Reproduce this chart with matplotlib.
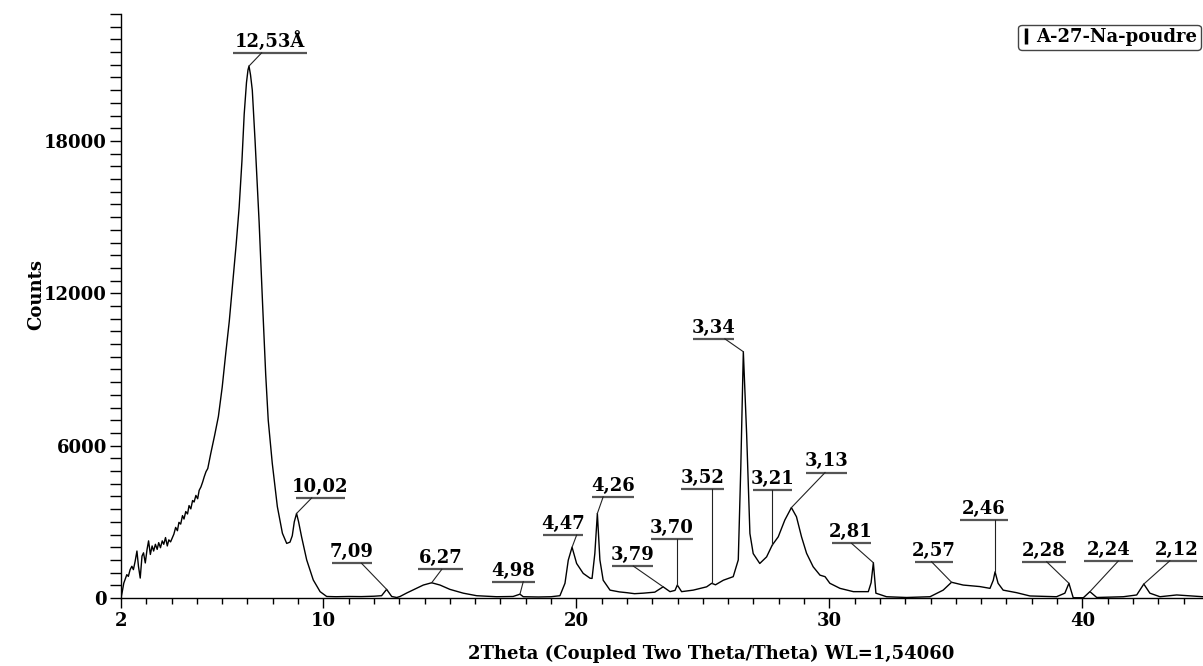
import matplotlib
matplotlib.use("Agg")
import matplotlib.pyplot as plt
from matplotlib.ticker import MultipleLocator, FixedLocator
from matplotlib.lines import Line2D

# ---------------- data ----------------
two_theta = [
    2.00, 2.05, 2.11, 2.16, 2.23, 2.29, 2.36, 2.43, 2.49, 2.56, 2.63, 2.69, 2.76, 2.83, 2.89,
    2.96, 3.03, 3.09, 3.16, 3.23, 3.29, 3.36, 3.43, 3.49, 3.56, 3.63, 3.69, 3.76, 3.83, 3.89,
    3.96, 4.03, 4.09, 4.16, 4.23, 4.29, 4.36, 4.43, 4.49, 4.56, 4.63, 4.69, 4.76, 4.83, 4.89,
    4.96, 5.03, 5.09, 5.16, 5.23, 5.29, 5.36, 5.43, 5.55, 5.70, 5.85, 6.00, 6.14, 6.28, 6.40,
    6.55, 6.67, 6.78, 6.87, 6.96, 7.02, 7.06, 7.12, 7.19, 7.30, 7.46, 7.60, 7.72, 7.82, 7.98,
    8.18, 8.38, 8.55, 8.68, 8.77, 8.85, 8.94, 9.02, 9.14, 9.34, 9.60, 9.87, 10.13, 10.50, 11.00,
    11.50, 12.00, 12.30, 12.50, 12.70, 12.90, 13.03, 13.30, 13.55, 13.95, 14.28, 14.61, 15.00, 15.53, 16.06,
    16.85, 17.50, 17.77, 17.90, 18.50, 19.00, 19.35, 19.55, 19.68, 19.83, 20.01, 20.27, 20.54, 20.62, 20.73,
    20.83, 20.93, 21.06, 21.33, 21.70, 21.99, 22.30, 22.64, 23.10, 23.43, 23.70, 23.90, 23.99, 24.16, 24.62,
    25.15, 25.35, 25.50, 25.81, 26.20, 26.40, 26.50, 26.60, 26.73, 26.86, 26.99, 27.25, 27.52, 27.74, 27.98,
    28.24, 28.50, 28.70, 28.90, 29.10, 29.36, 29.63, 29.83, 30.02, 30.42, 30.95, 31.54, 31.65, 31.74, 31.84,
    32.26, 33.05, 33.98, 34.50, 34.83, 35.29, 35.95, 36.35, 36.48, 36.55, 36.67, 36.87, 37.40, 37.93, 38.98,
    39.31, 39.47, 39.64, 40.04, 40.30, 40.57, 41.62, 42.15, 42.43, 42.67, 43.07, 43.73, 44.77,
]
counts = [
    0, 250, 585, 720, 920, 850, 1117, 1250, 1117, 1450, 1850, 1250, 785, 1650, 1780,
    1380, 1915, 2250, 1715, 2050, 1850, 2115, 1915, 2180, 1980, 2250, 2115, 2380, 2050, 2290,
    2210, 2380, 2515, 2780, 2650, 2980, 2910, 3245, 3110, 3405, 3310, 3640, 3510, 3840, 3780,
    4040, 3910, 4240, 4375, 4575, 4775, 4975, 5100, 5700, 6400, 7150, 8300, 9630, 10900, 12230,
    13900, 15380, 17200, 19060, 20300, 20800, 20950, 20600, 20000, 18000, 14800, 11500, 8800, 7000, 5300,
    3600, 2550, 2150, 2200, 2450, 3000, 3330, 3000, 2400, 1500, 710, 250, 60, 50, 60,
    55, 70, 90, 340, 60, 20, 60, 200, 320, 510, 600, 510, 340, 190, 90,
    50, 60, 150, 50, 40, 50, 90, 580, 1490, 2000, 1360, 970, 780, 770, 1750,
    3330, 1500, 700, 310, 240, 210, 170, 190, 230, 440, 250, 300, 510, 250, 310,
    440, 580, 520, 700, 840, 1500, 5160, 9700, 6470, 2540, 1750, 1360, 1620, 2080, 2410,
    3070, 3560, 3200, 2410, 1760, 1230, 900, 840, 580, 380, 250, 250, 600, 1390, 190,
    50, 20, 50, 310, 620, 510, 450, 380, 700, 1030, 580, 310, 210, 80, 50,
    190, 580, 10, 10, 250, 20, 50, 120, 550, 190, 50, 120, 50,
]

# peak labels (d-spacings) and the peak each one points to
peak_labels = ["12,53Å", "10,02", "7,09", "6,27", "4,98", "4,47", "4,26", "3,79", "3,70", "3,52",
               "3,34", "3,21", "3,13", "2,81", "2,57", "2,46", "2,28", "2,24", "2,12"]
peak_x = [7.06, 8.94, 12.50, 14.28, 17.77, 19.83, 20.83, 23.43, 23.99, 25.35,
          26.60, 27.74, 28.50, 31.74, 34.83, 36.55, 39.47, 40.30, 42.43]
peak_y = [20950, 3330, 340, 600, 150, 2000, 3330, 440, 510, 580,
          9700, 2080, 3560, 1390, 620, 1030, 580, 250, 550]

# label layout: underline left/right (2theta), underline height (counts), leader start x
ul_left = [6.43, 8.92, 10.33, 13.75, 16.65, 18.69, 20.60, 21.40, 22.94, 24.12,
           24.60, 26.97, 29.08, 30.09, 33.38, 35.16, 37.60, 40.06, 42.90]
ul_right = [9.35, 10.85, 11.91, 15.53, 18.36, 20.27, 22.28, 23.04, 24.62, 25.83,
            26.22, 28.53, 30.68, 31.63, 34.90, 37.07, 39.35, 42.01, 44.54]
ul_y = [21470, 3942, 1364, 1128, 641, 2476, 3985, 1258, 2307, 4284,
        10206, 4244, 4940, 2150, 1427, 3065, 1427, 1454, 1466]
leader_x = [7.56, 9.54, 11.51, 14.68, 17.90, 20.01, 21.06, 22.25, 23.99, 25.35,
            25.87, 27.74, 29.83, 30.88, 34.04, 36.55, 38.59, 41.42, 43.46]

x_ticks = [2, 10, 20, 30, 40]
y_ticks = [0, 6000, 12000, 18000]
series_name = "A-27-Na-poudre"

# ---------------- figure ----------------
FONT = "DejaVu Serif"
fig = plt.figure(figsize=(12.03, 6.66), dpi=100)
ax = fig.add_axes([121 / 1203, 68 / 666, 1082 / 1203, 584 / 666])

ax.plot(two_theta, counts, color="black", lw=1.0)

for lab, px, py, l, r, uy, lx in zip(peak_labels, peak_x, peak_y, ul_left, ul_right, ul_y, leader_x):
    ax.plot([l, r], [uy, uy], color="#555555", lw=1.6, solid_capstyle="butt")
    ax.plot([lx, px], [uy, py], color="#222222", lw=0.8)
    ax.annotate(lab, xy=((l + r) / 2, uy), xytext=(0, 1.5), textcoords="offset points",
                ha="center", va="bottom", fontsize=13, fontweight="bold", family=FONT)

ax.set_xlim(2, 44.77)
ax.set_ylim(0, 23000)
for s in ("top", "right"):
    ax.spines[s].set_visible(False)
for s in ("left", "bottom"):
    ax.spines[s].set_linewidth(1.0)

ax.xaxis.set_major_locator(FixedLocator(x_ticks))
ax.xaxis.set_minor_locator(MultipleLocator(1))
ax.yaxis.set_major_locator(FixedLocator(y_ticks))
ax.yaxis.set_minor_locator(MultipleLocator(500))
ax.tick_params(axis="x", which="major", direction="out", length=7, width=1, pad=3)
ax.tick_params(axis="x", which="minor", direction="out", length=4, width=1)
ax.tick_params(axis="y", which="both", direction="out", length=8, width=1, pad=2)
for t in ax.get_xticklabels() + ax.get_yticklabels():
    t.set_family(FONT)
    t.set_fontweight("bold")
    t.set_fontsize(13)

ax.set_ylabel("Counts", family=FONT, fontweight="bold", fontsize=13)
ax.yaxis.set_label_coords(-0.07, 0.52)
ax.set_xlabel("2Theta (Coupled Two Theta/Theta) WL=1,54060", family=FONT,
              fontweight="bold", fontsize=13)
ax.xaxis.set_label_coords(0.545, -0.08)

handle = Line2D([], [], color="black", marker="|", linestyle="None",
                markersize=11, markeredgewidth=2.5)
leg = ax.legend([handle], [series_name], loc="upper right",
                bbox_to_anchor=(0.998, 0.963), bbox_transform=fig.transFigure,
                handlelength=0.5, handletextpad=0.3, borderpad=0.2, borderaxespad=0,
                fancybox=True, framealpha=1, edgecolor="#444444",
                prop={"family": FONT, "weight": "bold", "size": 13})
leg.get_frame().set_linewidth(1.0)

fig.savefig("out.png", dpi=100)
